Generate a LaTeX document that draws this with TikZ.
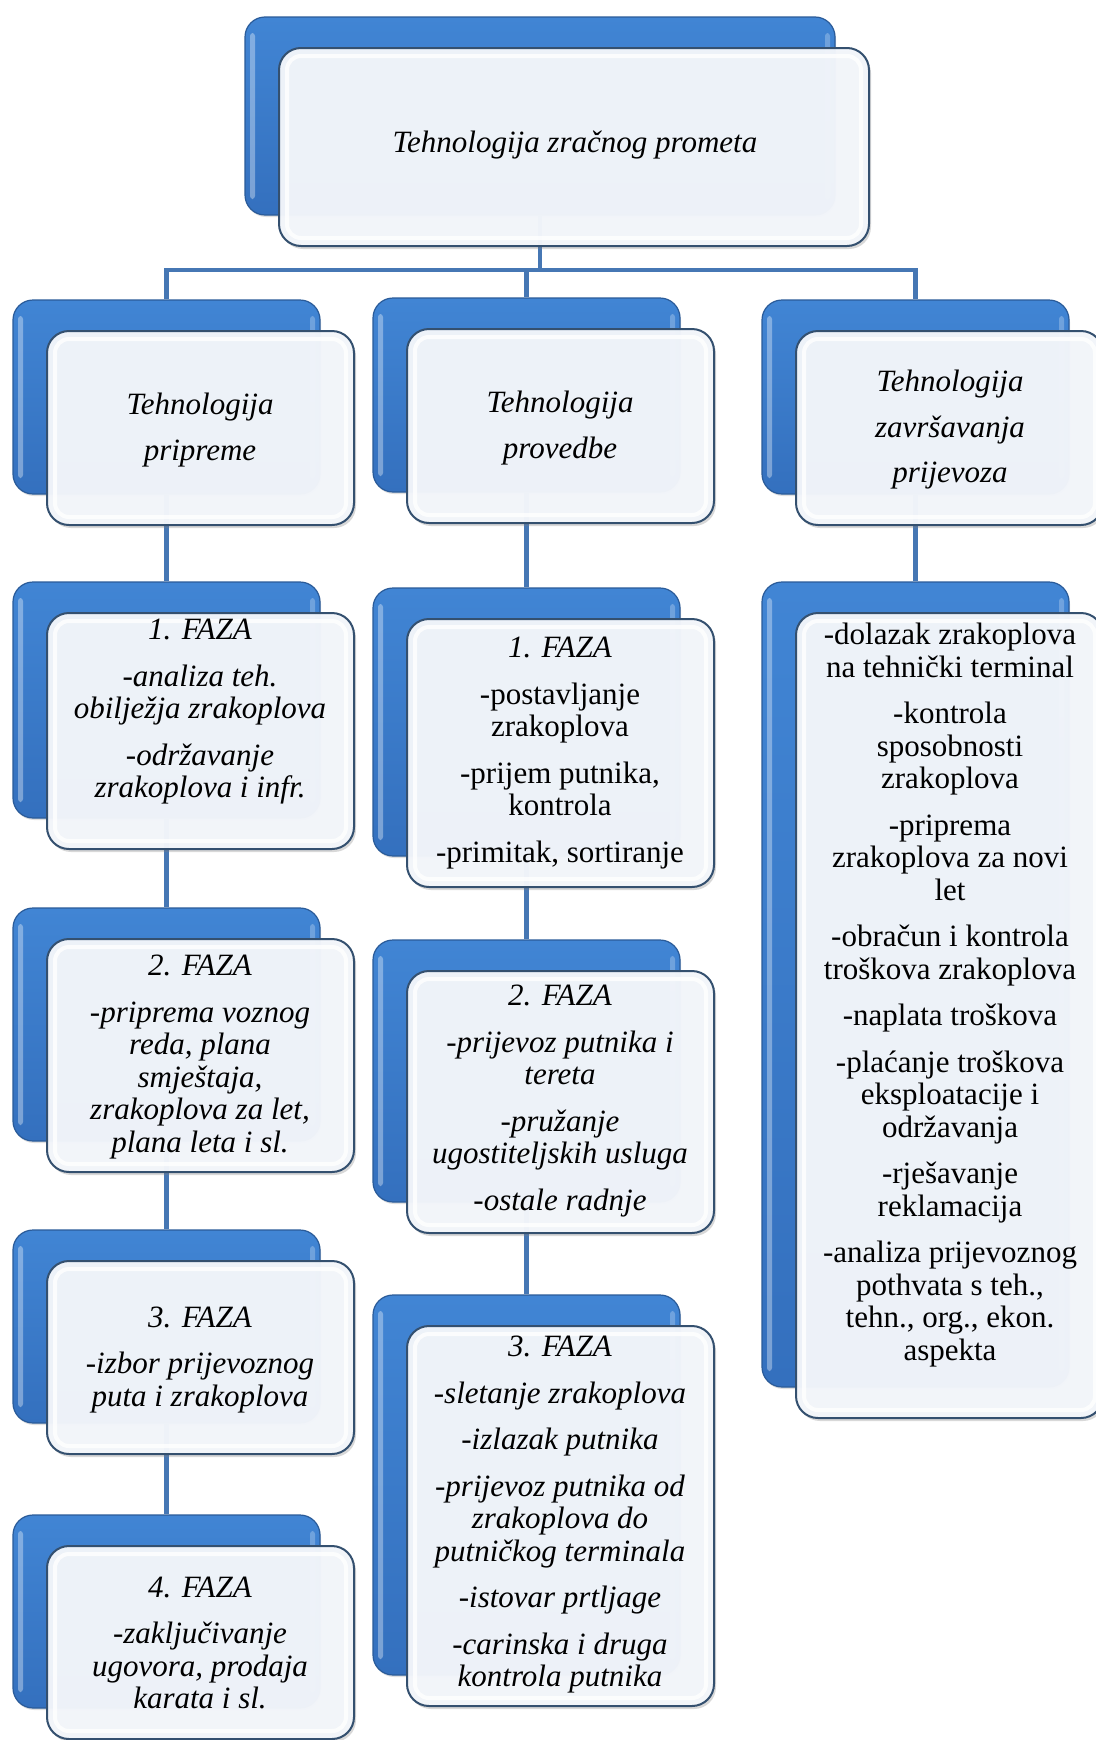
\documentclass[tikz,border=0pt]{standalone}
\usepackage{fontspec}
\setmainfont{Liberation Serif}
\usetikzlibrary{calc,shadows}

\definecolor{linkblue}{HTML}{4677B4}
\definecolor{backtop}{HTML}{4185D4}
\definecolor{backbot}{HTML}{3470BE}
\definecolor{backedge}{HTML}{2A5B99}
\definecolor{frontfill}{HTML}{F3F6FB}
\definecolor{frontedge}{HTML}{34506F}

\pgfdeclarelayer{paper}
\pgfdeclarelayer{background}
\pgfsetlayers{paper,background,main}

\tikzset{
  backbox/.style={rectangle, rounded corners=20pt, draw=backedge, line width=1.2pt,
    top color=backtop, bottom color=backbot, inner sep=0pt, minimum width=307pt,
    drop shadow={shadow xshift=1pt,shadow yshift=-2pt,opacity=.25},
    path picture={
      \fill[white,opacity=.35,rounded corners=3pt]
        ([shift={(5pt,-16pt)}]path picture bounding box.north west) rectangle
        ([shift={(10pt,16pt)}]path picture bounding box.south west);
      \fill[white,opacity=.25,rounded corners=3pt]
        ([shift={(-10pt,-16pt)}]path picture bounding box.north east) rectangle
        ([shift={(-5pt,16pt)}]path picture bounding box.south east);}},
  frontbox/.style={rectangle, rounded corners=22pt, draw=frontedge, line width=2pt,
    fill=frontfill, fill opacity=.97, inner sep=0pt, minimum width=307pt,
    drop shadow={shadow xshift=2pt,shadow yshift=-3pt,opacity=.3},
    path picture={
      \draw[white,line width=4pt,opacity=.8,rounded corners=14pt]
        ([shift={(8pt,-8pt)}]path picture bounding box.north west) rectangle
        ([shift={(-8pt,8pt)}]path picture bounding box.south east);}},
  boxtext/.style={align=center, inner sep=0pt, font=\fontsize{31}{32.5}\selectfont},
  italtext/.style={boxtext, font=\fontsize{31}{32.5}\selectfont\itshape},
  headtext/.style={align=center, inner sep=0pt, font=\fontsize{31}{45.5}\selectfont\itshape},
  link/.style={draw=linkblue, line width=4.5pt}
}

\begin{document}
\begin{tikzpicture}[x=1pt,y=-1pt]
  \useasboundingbox (0,0) rectangle (1095,1740);
  \begin{pgfonlayer}{paper}
    \fill[white] (0,0) rectangle (1095,1740);
  \end{pgfonlayer}

  % vrh
  \node[backbox, minimum width=590pt, minimum height=198pt] (top) at (540,116) {};
  \node[frontbox, minimum width=590pt, minimum height=198pt] (top-f) at ($(top)+(34,31)$) {};
  \node[headtext] (top-t) at (575,145) {Tehnologija zračnog prometa};

  % druga razina
  \node[backbox, minimum height=194pt] (prip) at (166.5,397) {};
  \node[frontbox, minimum height=194pt] (prip-f) at ($(prip)+(34,31)$) {};
  \node[headtext] (prip-t) at (200,430) {Tehnologija\\pripreme};

  \node[backbox, minimum height=194pt] (prov) at (526.5,395) {};
  \node[frontbox, minimum height=194pt] (prov-f) at ($(prov)+(34,31)$) {};
  \node[headtext] (prov-t) at (560,428) {Tehnologija\\provedbe};

  \node[backbox, minimum height=194pt] (zavr) at (915.5,397) {};
  \node[frontbox, minimum height=194pt] (zavr-f) at ($(zavr)+(34,31)$) {};
  \node[headtext] (zavr-t) at (950,430) {Tehnologija\\završavanja\\prijevoza};

  % priprema - faze
  \node[backbox, minimum height=236pt] (p1) at (166.5,700) {};
  \node[frontbox, minimum height=236pt] (p1-f) at ($(p1)+(34,31)$) {};
  \node[italtext] (p1-t) at (200,712) {1. FAZA\\[14pt]-analiza teh.\\obilježja zrakoplova\\[14pt]-održavanje\\zrakoplova i infr.};

  \node[backbox, minimum height=233pt] (p2) at (166.5,1024.5) {};
  \node[frontbox, minimum height=233pt] (p2-f) at ($(p2)+(34,31)$) {};
  \node[italtext] (p2-t) at (200,1057) {2. FAZA\\[14pt]-priprema voznog\\reda, plana\\smještaja,\\zrakoplova za let,\\plana leta i sl.};

  \node[backbox, minimum height=193pt] (p3) at (166.5,1326.5) {};
  \node[frontbox, minimum height=193pt] (p3-f) at ($(p3)+(34,31)$) {};
  \node[italtext] (p3-t) at (200,1360) {3. FAZA\\[14pt]-izbor prijevoznog\\puta i zrakoplova};

  \node[backbox, minimum height=193pt] (p4) at (166.5,1611.5) {};
  \node[frontbox, minimum height=193pt] (p4-f) at ($(p4)+(34,31)$) {};
  \node[italtext] (p4-t) at (200,1643) {4. FAZA\\[14pt]-zaključivanje\\ugovora, prodaja\\karata i sl.};

  % provedba - faze
  \node[backbox, minimum height=268pt] (v1) at (526.5,722) {};
  \node[frontbox, minimum height=268pt] (v1-f) at ($(v1)+(34,31)$) {};
  \node[boxtext] (v1-t) at (560,753) {\textit{1. FAZA}\\[14pt]-postavljanje\\zrakoplova\\[14pt]-prijem putnika,\\kontrola\\[14pt]-primitak, sortiranje};

  \node[backbox, minimum height=262pt] (v2) at (526.5,1071) {};
  \node[frontbox, minimum height=262pt] (v2-f) at ($(v2)+(34,31)$) {};
  \node[italtext] (v2-t) at (560,1101) {2. FAZA\\[14pt]-prijevoz putnika i\\tereta\\[14pt]-pružanje\\ugostiteljskih usluga\\[14pt]-ostale radnje};

  \node[backbox, minimum height=380pt] (v3) at (526.5,1485) {};
  \node[frontbox, minimum height=380pt] (v3-f) at ($(v3)+(34,31)$) {};
  \node[italtext] (v3-t) at (560,1515) {3. FAZA\\[14pt]-sletanje zrakoplova\\[14pt]-izlazak putnika\\[14pt]-prijevoz putnika od\\zrakoplova do\\putničkog terminala\\[14pt]-istovar prtljage\\[14pt]-carinska i druga\\kontrola putnika};

  % zavrsavanje
  \node[backbox, minimum height=805pt] (z1) at (915.5,984.5) {};
  \node[frontbox, minimum height=805pt] (z1-f) at ($(z1)+(34,31)$) {};
  \node[boxtext] (z1-t) at (950,995) {-dolazak zrakoplova\\na tehnički terminal\\[14pt]-kontrola\\sposobnosti\\zrakoplova\\[14pt]-priprema\\zrakoplova za novi\\let\\[14pt]-obračun i kontrola\\troškova zrakoplova\\[14pt]-naplata troškova\\[14pt]-plaćanje troškova\\eksploatacije i\\održavanja\\[14pt]-rješavanje\\reklamacija\\[14pt]-analiza prijevoznog\\pothvata s teh.,\\tehn., org., ekon.\\aspekta};

  % veze
  \begin{pgfonlayer}{background}
    \coordinate (bus) at (540,270);
    \draw[link] (top.south) -- (bus) -| (prip.north);
    \draw[link] (bus) -| (prov.north);
    \draw[link] (bus) -| (zavr.north);
    \draw[link] (prip.south) -- (p1.north);
    \draw[link] (p1.south) -- (p2.north);
    \draw[link] (p2.south) -- (p3.north);
    \draw[link] (p3.south) -- (p4.north);
    \draw[link] (prov.south) -- (v1.north);
    \draw[link] (v1.south) -- (v2.north);
    \draw[link] (v2.south) -- (v3.north);
    \draw[link] (zavr.south) -- (z1.north);
  \end{pgfonlayer}
\end{tikzpicture}
\end{document}
